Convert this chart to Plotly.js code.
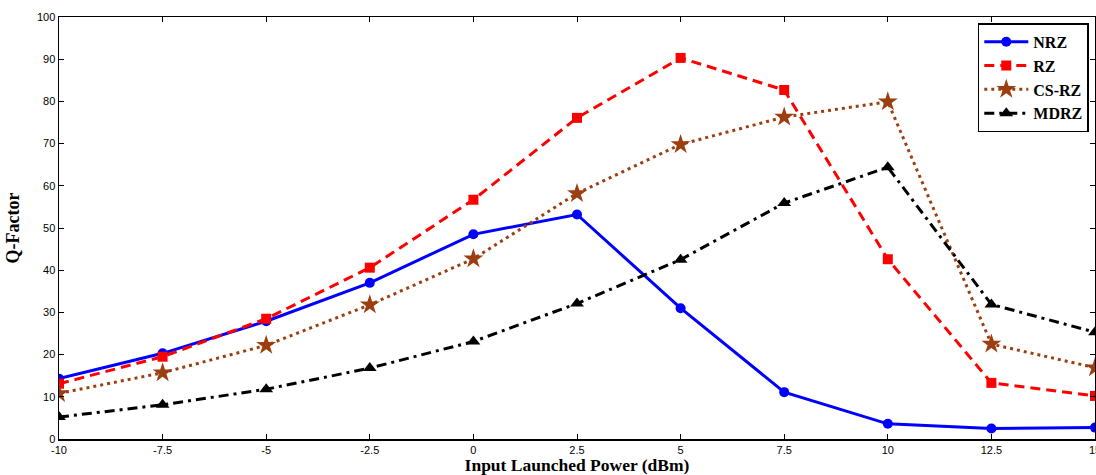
<!DOCTYPE html>
<html>
<head>
<meta charset="utf-8">
<script src="https://cdn.plot.ly/plotly-3.0.1.min.js"></script>
<style>html,body{margin:0;padding:0;background:#fff;}#chart{width:1096px;height:475px;}</style>
</head>
<body>
<div id="chart"></div>
<script>
const power = [-10, -7.5, -5, -2.5, 0, 2.5, 5, 7.5, 10, 12.5, 15];
const nrz  = [14.3, 20.3, 27.9, 37.0, 48.5, 53.2, 31.0, 11.1, 3.6, 2.5, 2.7];
const rz   = [13.1, 19.5, 28.5, 40.6, 56.7, 76.1, 90.3, 82.7, 42.6, 13.3, 10.2];
const csrz = [10.8, 15.7, 22.2, 31.8, 42.7, 58.2, 69.8, 76.3, 79.9, 22.5, 16.9];
const mdrz = [5.2, 8.1, 11.8, 16.8, 23.1, 32.1, 42.5, 55.9, 64.4, 31.9, 25.3];
const yTicks = [0, 10, 20, 30, 40, 50, 60, 70, 80, 90, 100];
const xTickLabels = ['-10', '-7.5', '-5', '-2.5', '0', '2.5', '5', '7.5', '10', '12.5', '15'];

const traces = [
  {x: power, y: nrz, name: 'NRZ', mode: 'lines+markers',
   line: {color: '#0000ff', width: 3, dash: 'solid'},
   marker: {symbol: 'circle', size: 10, color: '#0000ff'}},
  {x: power, y: rz, name: 'RZ', mode: 'lines+markers',
   line: {color: '#ff0000', width: 3, dash: '10px,6px'},
   marker: {symbol: 'square', size: 10, color: '#ff0000'}},
  {x: power, y: csrz, name: 'CS-RZ', mode: 'lines+markers',
   line: {color: '#9c3f10', width: 3, dash: '3px,4px'},
   marker: {symbol: 'star', size: 15, color: '#9c3f10'}},
  {x: power, y: mdrz, name: 'MDRZ', mode: 'lines+markers',
   line: {color: '#000000', width: 3, dash: '10px,5px,3px,5px'},
   marker: {symbol: 'triangle-up', size: 12, color: '#000000'}}
];

const layout = {
  width: 1096, height: 475,
  margin: {l: 59, r: 1, t: 17, b: 36},
  paper_bgcolor: '#fff', plot_bgcolor: '#fff',
  showlegend: true,
  legend: {
    x: 0.994, xanchor: 'right', y: 0.985, yanchor: 'top',
    bgcolor: '#fff', bordercolor: '#000', borderwidth: 1.5,
    font: {family: 'Liberation Serif, Times New Roman, serif', size: 16, color: '#000', weight: 'bold'},
    tracegroupgap: 0, itemwidth: 44
  },
  xaxis: {
    range: [-10, 15], tickmode: 'array', tickvals: power, ticktext: xTickLabels,
    ticks: 'inside', ticklen: 5, tickcolor: '#000', mirror: 'ticks',
    ticklabeloverflow: 'allow',
    showline: true, linecolor: '#000', linewidth: 1.5, showgrid: false, zeroline: false,
    tickfont: {family: 'Liberation Sans, Arial, sans-serif', size: 11, color: '#000'},
    title: {text: '<b>Input Launched Power (dBm)</b>', standoff: 6,
            font: {family: 'Liberation Serif, Times New Roman, serif', size: 17.5, color: '#000'}}
  },
  yaxis: {
    range: [0, 100], tickmode: 'array', tickvals: yTicks,
    ticks: 'inside', ticklen: 5, tickcolor: '#000', mirror: 'ticks',
    showline: true, linecolor: '#000', linewidth: 1.5, showgrid: false, zeroline: false,
    tickfont: {family: 'Liberation Sans, Arial, sans-serif', size: 11, color: '#000'},
    title: {text: '<b>Q-Factor</b>', standoff: 12,
            font: {family: 'Liberation Serif, Times New Roman, serif', size: 18, color: '#000'}}
  }
};

Plotly.newPlot('chart', traces, layout, {displayModeBar: false, staticPlot: true});
</script>
</body>
</html>
